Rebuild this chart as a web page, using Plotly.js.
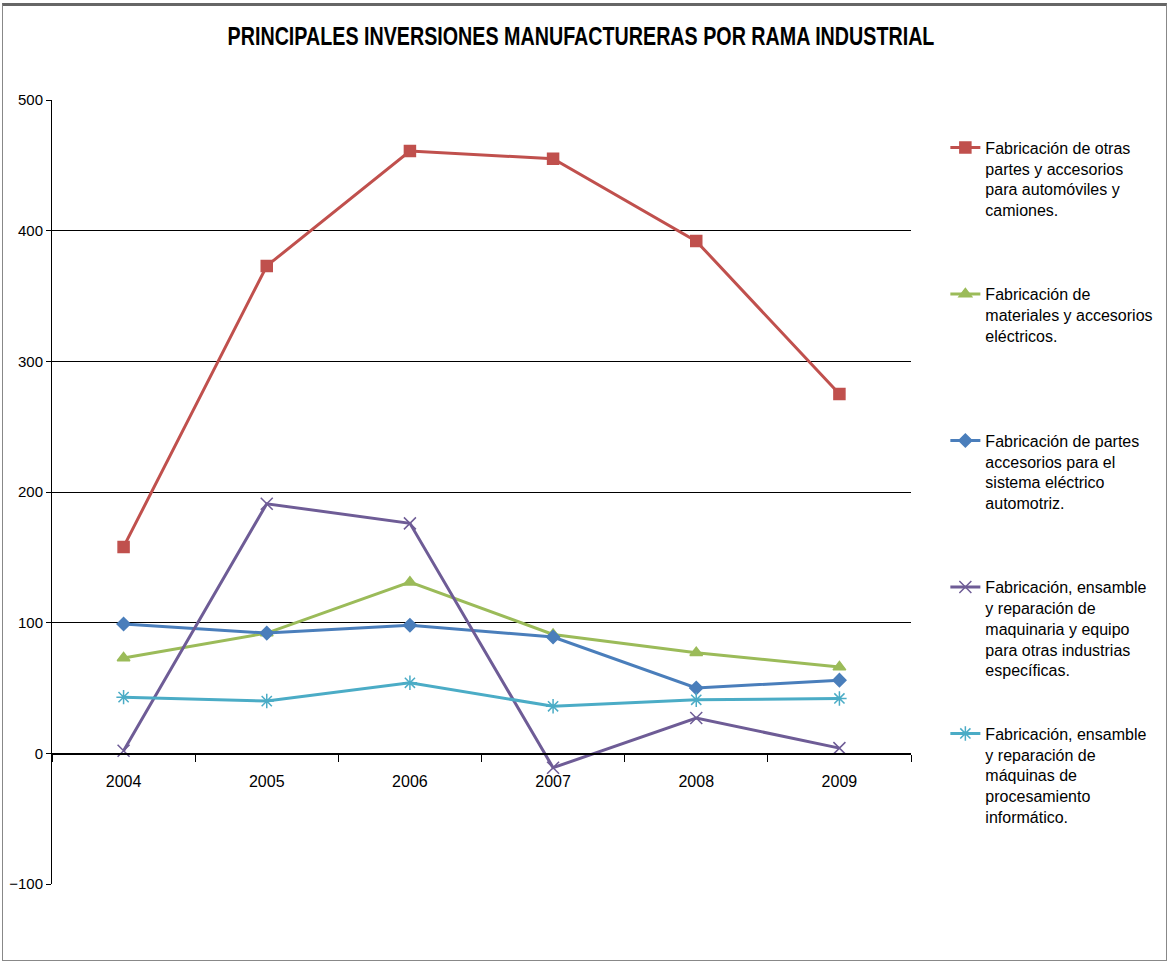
<!DOCTYPE html>
<html><head><meta charset="utf-8">
<script src="https://cdn.plot.ly/plotly-3.0.1.min.js"></script>
<style>
html,body{margin:0;padding:0;background:#fff;}
#chart{width:1170px;height:965px;}
#frame{position:absolute;left:2px;top:3px;width:1165px;height:958px;border:1px solid #888;border-top:3px solid #666;box-sizing:border-box;pointer-events:none;}
</style></head>
<body>
<div id="chart"></div>
<div id="frame"></div>
<script>
const years = ['2004','2005','2006','2007','2008','2009'];
const autopartes = [158, 373, 461, 455, 392, 275];
const electricos = [73, 92, 131, 91, 77, 66];
const sistemaElectrico = [99, 92, 98, 89, 50, 56];
const maquinaria = [2, 191, 176, -11, 27, 4];
const informatica = [43, 40, 54, 36, 41, 42];
const names = [
  'Fabricación de otras<br>partes y accesorios<br>para automóviles y<br>camiones.<br> ',
  'Fabricación de<br>materiales y accesorios<br>eléctricos.<br> <br> ',
  'Fabricación de partes<br>accesorios para el<br>sistema eléctrico<br>automotriz.<br> ',
  'Fabricación, ensamble<br>y reparación de<br>maquinaria y equipo<br>para otras industrias<br>específicas.',
  'Fabricación, ensamble<br>y reparación de<br>máquinas de<br>procesamiento<br>informático.'
];
const series = [autopartes, electricos, sistemaElectrico, maquinaria, informatica];
const colors = ['#C0504D', '#9BBB59', '#4A7EBB', '#6E5C96', '#4BACC6'];
const symbols = ['square', 'triangle-up', 'diamond', 'x-thin-open', 'asterisk-open'];
const sizes = [11, 11, 10, 12, 12];

const traces = series.map((s, i) => ({
  x: years, y: s, name: names[i], type: 'scatter', mode: 'lines+markers',
  legendgroup: 'g' + i,
  line: {color: colors[i], width: 3},
  marker: {symbol: symbols[i], size: sizes[i], color: colors[i], line: {color: colors[i], width: 1.5}}
}));

const font = 'Liberation Sans Narrow, Arial Narrow, Liberation Sans, Arial, sans-serif';
const layout = {
  width: 1170, height: 965,
  paper_bgcolor: '#fff', plot_bgcolor: '#fff',
  margin: {l: 52, r: 255, t: 100, b: 81},
  title: {text: '<b>PRINCIPALES INVERSIONES MANUFACTURERAS POR RAMA INDUSTRIAL</b>',
          font: {family: font, size: 25, color: '#000'},
          x: 0.497, xanchor: 'center', y: 0.962, yanchor: 'middle', yref: 'container'},
  xaxis: {type: 'category', range: [-0.5, 5.5], anchor: 'free', position: 1/6,
          showline: true, linecolor: '#000', linewidth: 1.5,
          tickson: 'boundaries', ticks: 'outside', ticklen: 7, tickcolor: '#000',
          ticklabelstandoff: 13,
          showgrid: false, zeroline: false,
          tickfont: {family: font, size: 16, color: '#000'}},
  yaxis: {range: [-100, 500], dtick: 100, tick0: 0,
          showgrid: true, gridcolor: '#000', gridwidth: 1,
          zeroline: false, showline: true, linecolor: '#000', linewidth: 1,
          ticks: 'outside', ticklen: 5, tickcolor: '#000',
          tickfont: {family: font, size: 15, color: '#000'}},
  legend: {x: 1.04, xanchor: 'left', y: 0.961, yanchor: 'top',
           font: {family: font, size: 16, color: '#000'},
           tracegroupgap: 39.5, valign: 'top', itemwidth: 30,
           bgcolor: 'rgba(0,0,0,0)'},
  showlegend: true
};
Plotly.newPlot('chart', traces, layout, {displayModeBar: false, staticPlot: true}).then(gd => {
  const g = gd.querySelector('.g-gtitle');
  const t = g && g.querySelector('text');
  if (t) {
    const bb = t.getBBox();
    const target = 707;
    const s = target / bb.width;
    const cx = 581;
    const bcx = bb.x + bb.width / 2;
    g.setAttribute('transform', `translate(${cx},0) scale(${s},1) translate(${-bcx},0)`);
  }
});
</script>
</body></html>
